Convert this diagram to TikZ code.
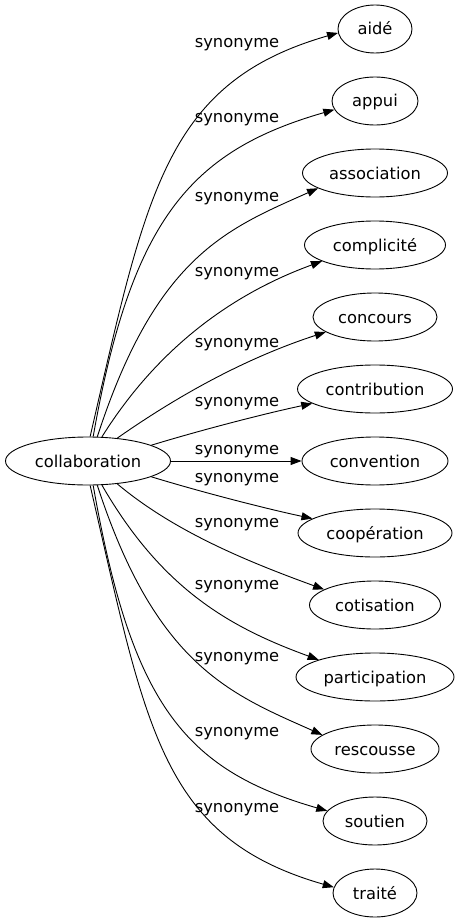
\documentclass[tikz,border=0pt]{standalone}
\usepackage{fontspec}
\setmainfont{DejaVu Sans}
\usetikzlibrary{arrows.meta,shapes.geometric}

\tikzset{
  word/.style={draw, ellipse, line width=0.9pt, minimum height=48pt, inner sep=2pt,
    text height=14pt, text depth=2pt},
  syn/.style={anchor=base, inner sep=0pt},
  link/.style={line width=0.9pt, -{Triangle[length=11pt,width=8pt]}},
}

\begin{document}
\begin{tikzpicture}[x=1pt,y=1pt,font=\fontsize{16.3}{19}\selectfont]
    \useasboundingbox (0,0) rectangle (460,-923);
    % source
    \node[word, minimum width=165pt] (collab) at (88,-461) {collaboration};
    % synonyms
    \node[word, minimum width=74pt]  (aide)          at (375,-29)  {aidé};
    \node[word, minimum width=86pt]  (appui)         at (375,-101) {appui};
    \node[word, minimum width=145pt] (association)   at (375,-173) {association};
    \node[word, minimum width=141pt] (complicite)    at (375,-245) {complicité};
    \node[word, minimum width=124pt] (concours)      at (375,-317) {concours};
    \node[word, minimum width=155pt] (contribution)  at (375,-389) {contribution};
    \node[word, minimum width=146pt] (convention)    at (375,-461) {convention};
    \node[word, minimum width=154pt] (cooperation)   at (375,-533) {coopération};
    \node[word, minimum width=131pt] (cotisation)    at (375,-605) {cotisation};
    \node[word, minimum width=158pt] (participation) at (375,-677) {participation};
    \node[word, minimum width=128pt] (rescousse)     at (375,-749) {rescousse};
    \node[word, minimum width=104pt] (soutien)       at (375,-821) {soutien};
    \node[word, minimum width=84pt]  (traite)        at (375,-893) {traité};
    % edge labels
    \node[syn] (s1)  at (237,-48)  {synonyme};
    \node[syn] (s2)  at (237,-122) {synonyme};
    \node[syn] (s3)  at (237,-201) {synonyme};
    \node[syn] (s4)  at (237,-276) {synonyme};
    \node[syn] (s5)  at (237,-347) {synonyme};
    \node[syn] (s6)  at (237,-406) {synonyme};
    \node[syn] (s7)  at (237,-454) {synonyme};
    \node[syn] (s8)  at (237,-482) {synonyme};
    \node[syn] (s9)  at (237,-527) {synonyme};
    \node[syn] (s10) at (237,-589) {synonyme};
    \node[syn] (s11) at (237,-661) {synonyme};
    \node[syn] (s12) at (237,-736) {synonyme};
    \node[syn] (s13) at (237,-812) {synonyme};
    % edges
    \draw[link] (collab.85) to[out=77,in=196,out distance=250pt,in distance=180pt] (aide.186);
    \draw[link] (collab.78) to[out=80,in=196,out distance=220pt,in distance=150pt] (appui.192);
    \draw[link] (collab.69) to[out=72,in=204,out distance=190pt,in distance=100pt] (association.195);
    \draw[link] (collab.60) to[out=58,in=200,out distance=110pt,in distance=90pt] (complicite.197);
    \draw[link] (collab.38) to[out=35,in=198,out distance=80pt,in distance=80pt] (concours.197);
    \draw[link] (collab.14) to[out=17,in=192,out distance=50pt,in distance=50pt] (contribution.193);
    \draw[link] (collab) -- (convention);
    \draw[link] (collab.-14) to[out=-17,in=168,out distance=50pt,in distance=50pt] (cooperation.167);
    \draw[link] (collab.-38) to[out=-40,in=160,out distance=75pt,in distance=80pt] (cotisation.163);
    \draw[link] (collab.-60) to[out=-60,in=160,out distance=120pt,in distance=95pt] (participation.163);
    \draw[link] (collab.-69) to[out=-72,in=156,out distance=190pt,in distance=100pt] (rescousse.165);
    \draw[link] (collab.-78) to[out=-80,in=164,out distance=220pt,in distance=150pt] (soutien.168);
    \draw[link] (collab.-85) to[out=-77,in=164,out distance=250pt,in distance=180pt] (traite.172);
\end{tikzpicture}
\end{document}
